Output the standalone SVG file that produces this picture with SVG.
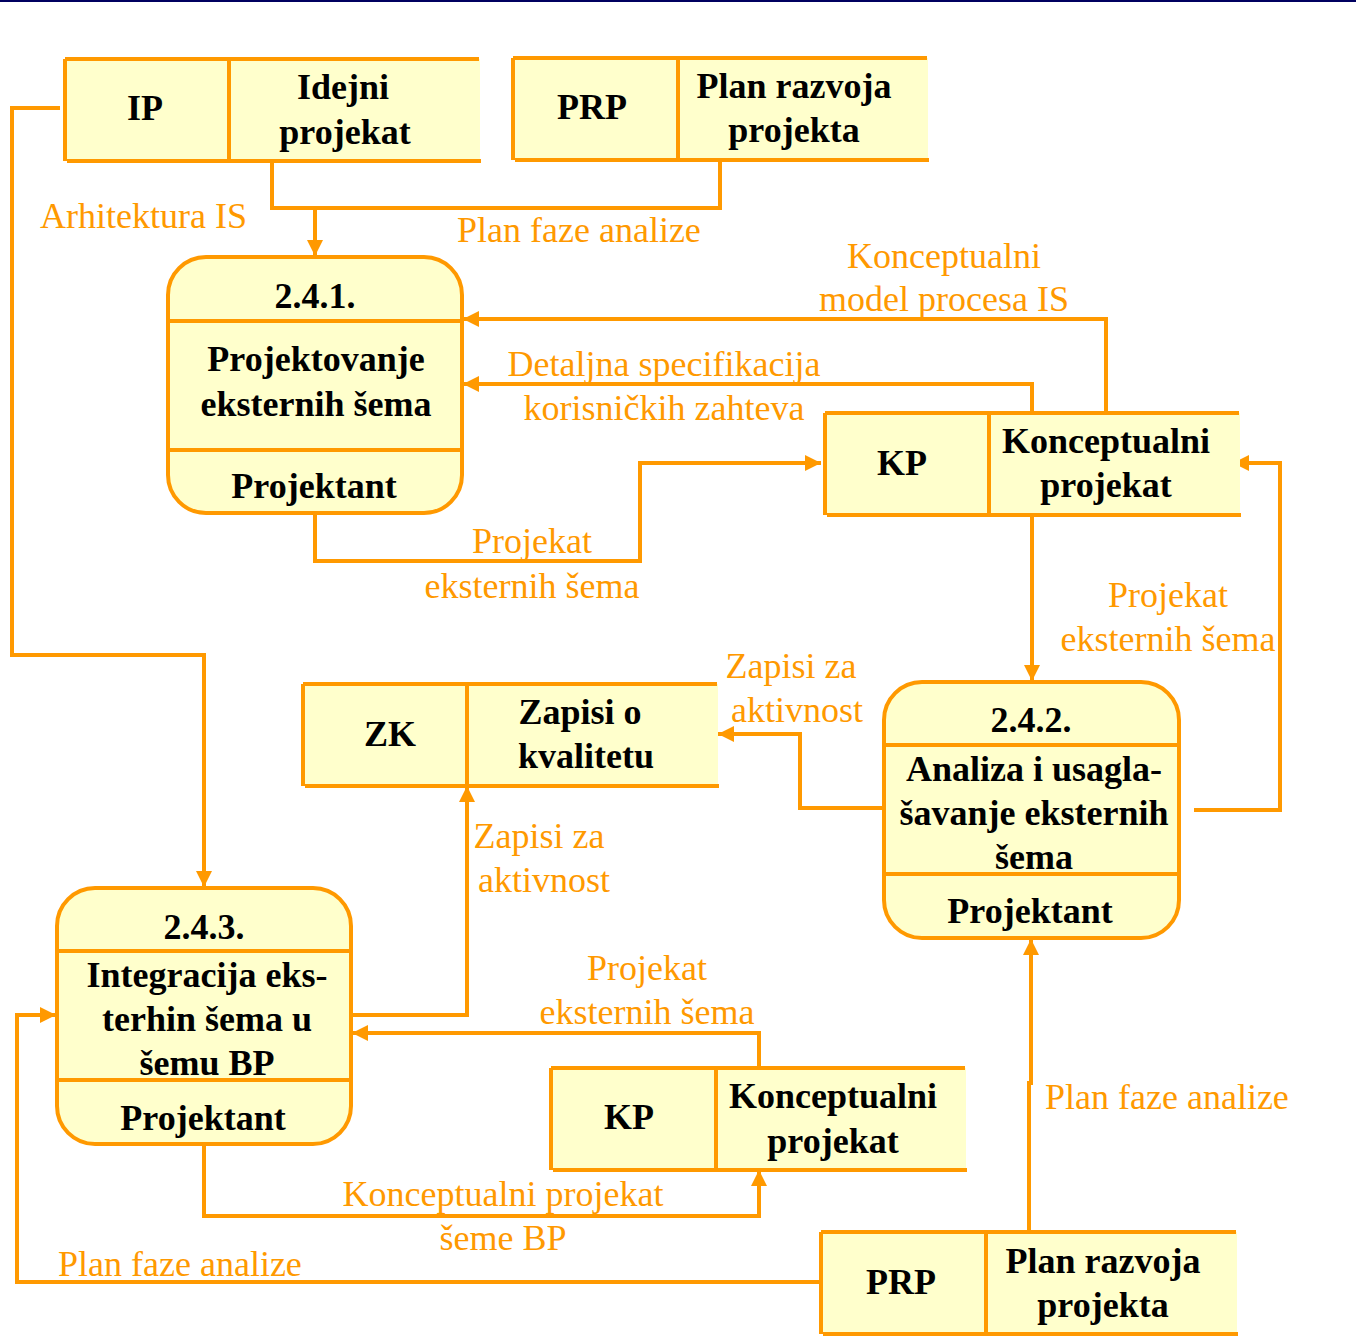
<svg xmlns="http://www.w3.org/2000/svg" width="1356" height="1340" viewBox="0 0 1356 1340">
<style>
.st{fill:#FFFFCC;stroke:none}
.ln{stroke:#FF9900;stroke-width:4;fill:none}
.pr{fill:#FFFFCC;stroke:#FF9900;stroke-width:4}
.b{font-family:"Liberation Serif","Times New Roman",serif;font-weight:bold;font-size:36px;fill:#000;text-anchor:middle}
.lb{font-family:"Liberation Serif","Times New Roman",serif;font-size:36px;fill:#FF9900;text-anchor:middle}
.ls{text-anchor:start}
.cn{stroke:#FF9900;stroke-width:4;fill:none;stroke-linejoin:miter}
</style>
<defs>
<marker id="ah" markerUnits="userSpaceOnUse" markerWidth="18" markerHeight="18" refX="16" refY="8" orient="auto">
<path d="M0,0 L16,8 L0,16 Z" fill="#FF9900"/>
</marker>
</defs>
<rect x="0" y="0" width="1356" height="2" fill="#000060"/>

<g id="connectors">
<path class="cn" d="M60,108 H12 V655 H204 V887" marker-end="url(#ah)"/>
<path class="cn" d="M272,160 V208 H720 V160"/>
<path class="cn" d="M315,208 V256" marker-end="url(#ah)"/>
<path class="cn" d="M1106,413 V319 H463" marker-end="url(#ah)"/>
<path class="cn" d="M1032,413 V384 H463" marker-end="url(#ah)"/>
<path class="cn" d="M315,513 V561 H640 V463 H821" marker-end="url(#ah)"/>
<path class="cn" d="M1032,515 V681" marker-end="url(#ah)"/>
<path class="cn" d="M1194,810 H1280 V463 H1233" marker-end="url(#ah)"/>
<path class="cn" d="M884,808 H800 V734 H718" marker-end="url(#ah)"/>
<path class="cn" d="M351,1015 H467 V786" marker-end="url(#ah)"/>
<path class="cn" d="M759,1068 V1033 H352" marker-end="url(#ah)"/>
<path class="cn" d="M204,1144 V1216 H759 V1170" marker-end="url(#ah)"/>
<path class="cn" d="M821,1282 H17 V1015 H56" marker-end="url(#ah)"/>
<path class="cn" d="M1029,1232 V1083 H1031 V939" marker-end="url(#ah)"/>
</g>

<g id="labels">
<text class="lb ls" x="40" y="228">Arhitektura IS</text>
<text class="lb ls" x="457" y="242">Plan faze analize</text>
<text class="lb" x="944" y="268">Konceptualni</text>
<text class="lb" x="944" y="311">model procesa IS</text>
<text class="lb" x="664" y="376">Detaljna specifikacija</text>
<text class="lb" x="664" y="420">korisničkih zahteva</text>
<text class="lb" x="532" y="553">Projekat</text>
<text class="lb" x="532" y="598">eksternih šema</text>
<text class="lb" x="1168" y="607">Projekat</text>
<text class="lb" x="1168" y="651">eksternih šema</text>
<text class="lb" x="791" y="678">Zapisi za</text>
<text class="lb" x="797" y="722">aktivnost</text>
<text class="lb" x="539" y="848">Zapisi za</text>
<text class="lb" x="544" y="892">aktivnost</text>
<text class="lb" x="647" y="980">Projekat</text>
<text class="lb" x="647" y="1024">eksternih šema</text>
<text class="lb" x="503" y="1206">Konceptualni projekat</text>
<text class="lb" x="503" y="1250">šeme BP</text>
<text class="lb ls" x="58" y="1276">Plan faze analize</text>
<text class="lb ls" x="1045" y="1109">Plan faze analize</text>
</g>

<g id="store-IP">
<rect class="st" x="65" y="59" width="415" height="102"/>
<path class="ln" d="M65,59 H479 M67,161 H481 M65,59 V161 M229,59 V161"/>
<text class="b" x="145" y="120">IP</text>
<text class="b" x="343" y="99">Idejni</text>
<text class="b" x="345" y="144">projekat</text>
</g>

<g id="store-PRP-top">
<rect class="st" x="513" y="58" width="415" height="102"/>
<path class="ln" d="M513,58 H927 M515,160 H929 M513,58 V160 M678,58 V160"/>
<text class="b" x="592" y="119">PRP</text>
<text class="b" x="794" y="98">Plan razvoja</text>
<text class="b" x="794" y="142">projekta</text>
</g>

<g id="proc-241">
<rect class="pr" x="168" y="257" width="294" height="256" rx="38" ry="38"/>
<path class="ln" d="M168,321 H462 M168,450 H462"/>
<text class="b" x="315" y="308">2.4.1.</text>
<text class="b" x="316" y="371">Projektovanje</text>
<text class="b" x="316" y="416">eksternih šema</text>
<text class="b" x="314" y="498">Projektant</text>
</g>

<g id="store-KP-top">
<rect class="st" x="825" y="413" width="415" height="102"/>
<path class="ln" d="M825,413 H1239 M827,515 H1241 M825,413 V515 M989,413 V515"/>
<text class="b" x="902" y="475">KP</text>
<text class="b" x="1106" y="453">Konceptualni</text>
<text class="b" x="1106" y="497">projekat</text>
</g>

<g id="store-ZK">
<rect class="st" x="303" y="684" width="415" height="102"/>
<path class="ln" d="M303,684 H717 M305,786 H719 M303,684 V786 M467,684 V786"/>
<text class="b" x="390" y="746">ZK</text>
<text class="b" x="580" y="724">Zapisi o</text>
<text class="b" x="586" y="768">kvalitetu</text>
</g>

<g id="proc-242">
<rect class="pr" x="884" y="682" width="295" height="256" rx="38" ry="38"/>
<path class="ln" d="M884,745 H1179 M884,874 H1179"/>
<text class="b" x="1031" y="732">2.4.2.</text>
<text class="b" x="1034" y="781">Analiza i usagla-</text>
<text class="b" x="1034" y="825">šavanje eksternih</text>
<text class="b" x="1034" y="869">šema</text>
<text class="b" x="1030" y="923">Projektant</text>
</g>

<g id="proc-243">
<rect class="pr" x="57" y="888" width="294" height="256" rx="38" ry="38"/>
<path class="ln" d="M57,951 H351 M57,1080 H351"/>
<text class="b" x="204" y="939">2.4.3.</text>
<text class="b" x="207" y="987">Integracija eks-</text>
<text class="b" x="207" y="1031">terhin šema u</text>
<text class="b" x="207" y="1075">šemu BP</text>
<text class="b" x="203" y="1130">Projektant</text>
</g>

<g id="store-KP-bottom">
<rect class="st" x="551" y="1068" width="415" height="102"/>
<path class="ln" d="M551,1068 H965 M553,1170 H967 M551,1068 V1170 M716,1068 V1170"/>
<text class="b" x="629" y="1129">KP</text>
<text class="b" x="833" y="1108">Konceptualni</text>
<text class="b" x="833" y="1153">projekat</text>
</g>

<g id="store-PRP-bottom">
<rect class="st" x="821" y="1232" width="416" height="102"/>
<path class="ln" d="M821,1232 H1236 M823,1334 H1238 M821,1232 V1334 M986,1232 V1334"/>
<text class="b" x="901" y="1294">PRP</text>
<text class="b" x="1103" y="1273">Plan razvoja</text>
<text class="b" x="1103" y="1317">projekta</text>
</g>
</svg>
